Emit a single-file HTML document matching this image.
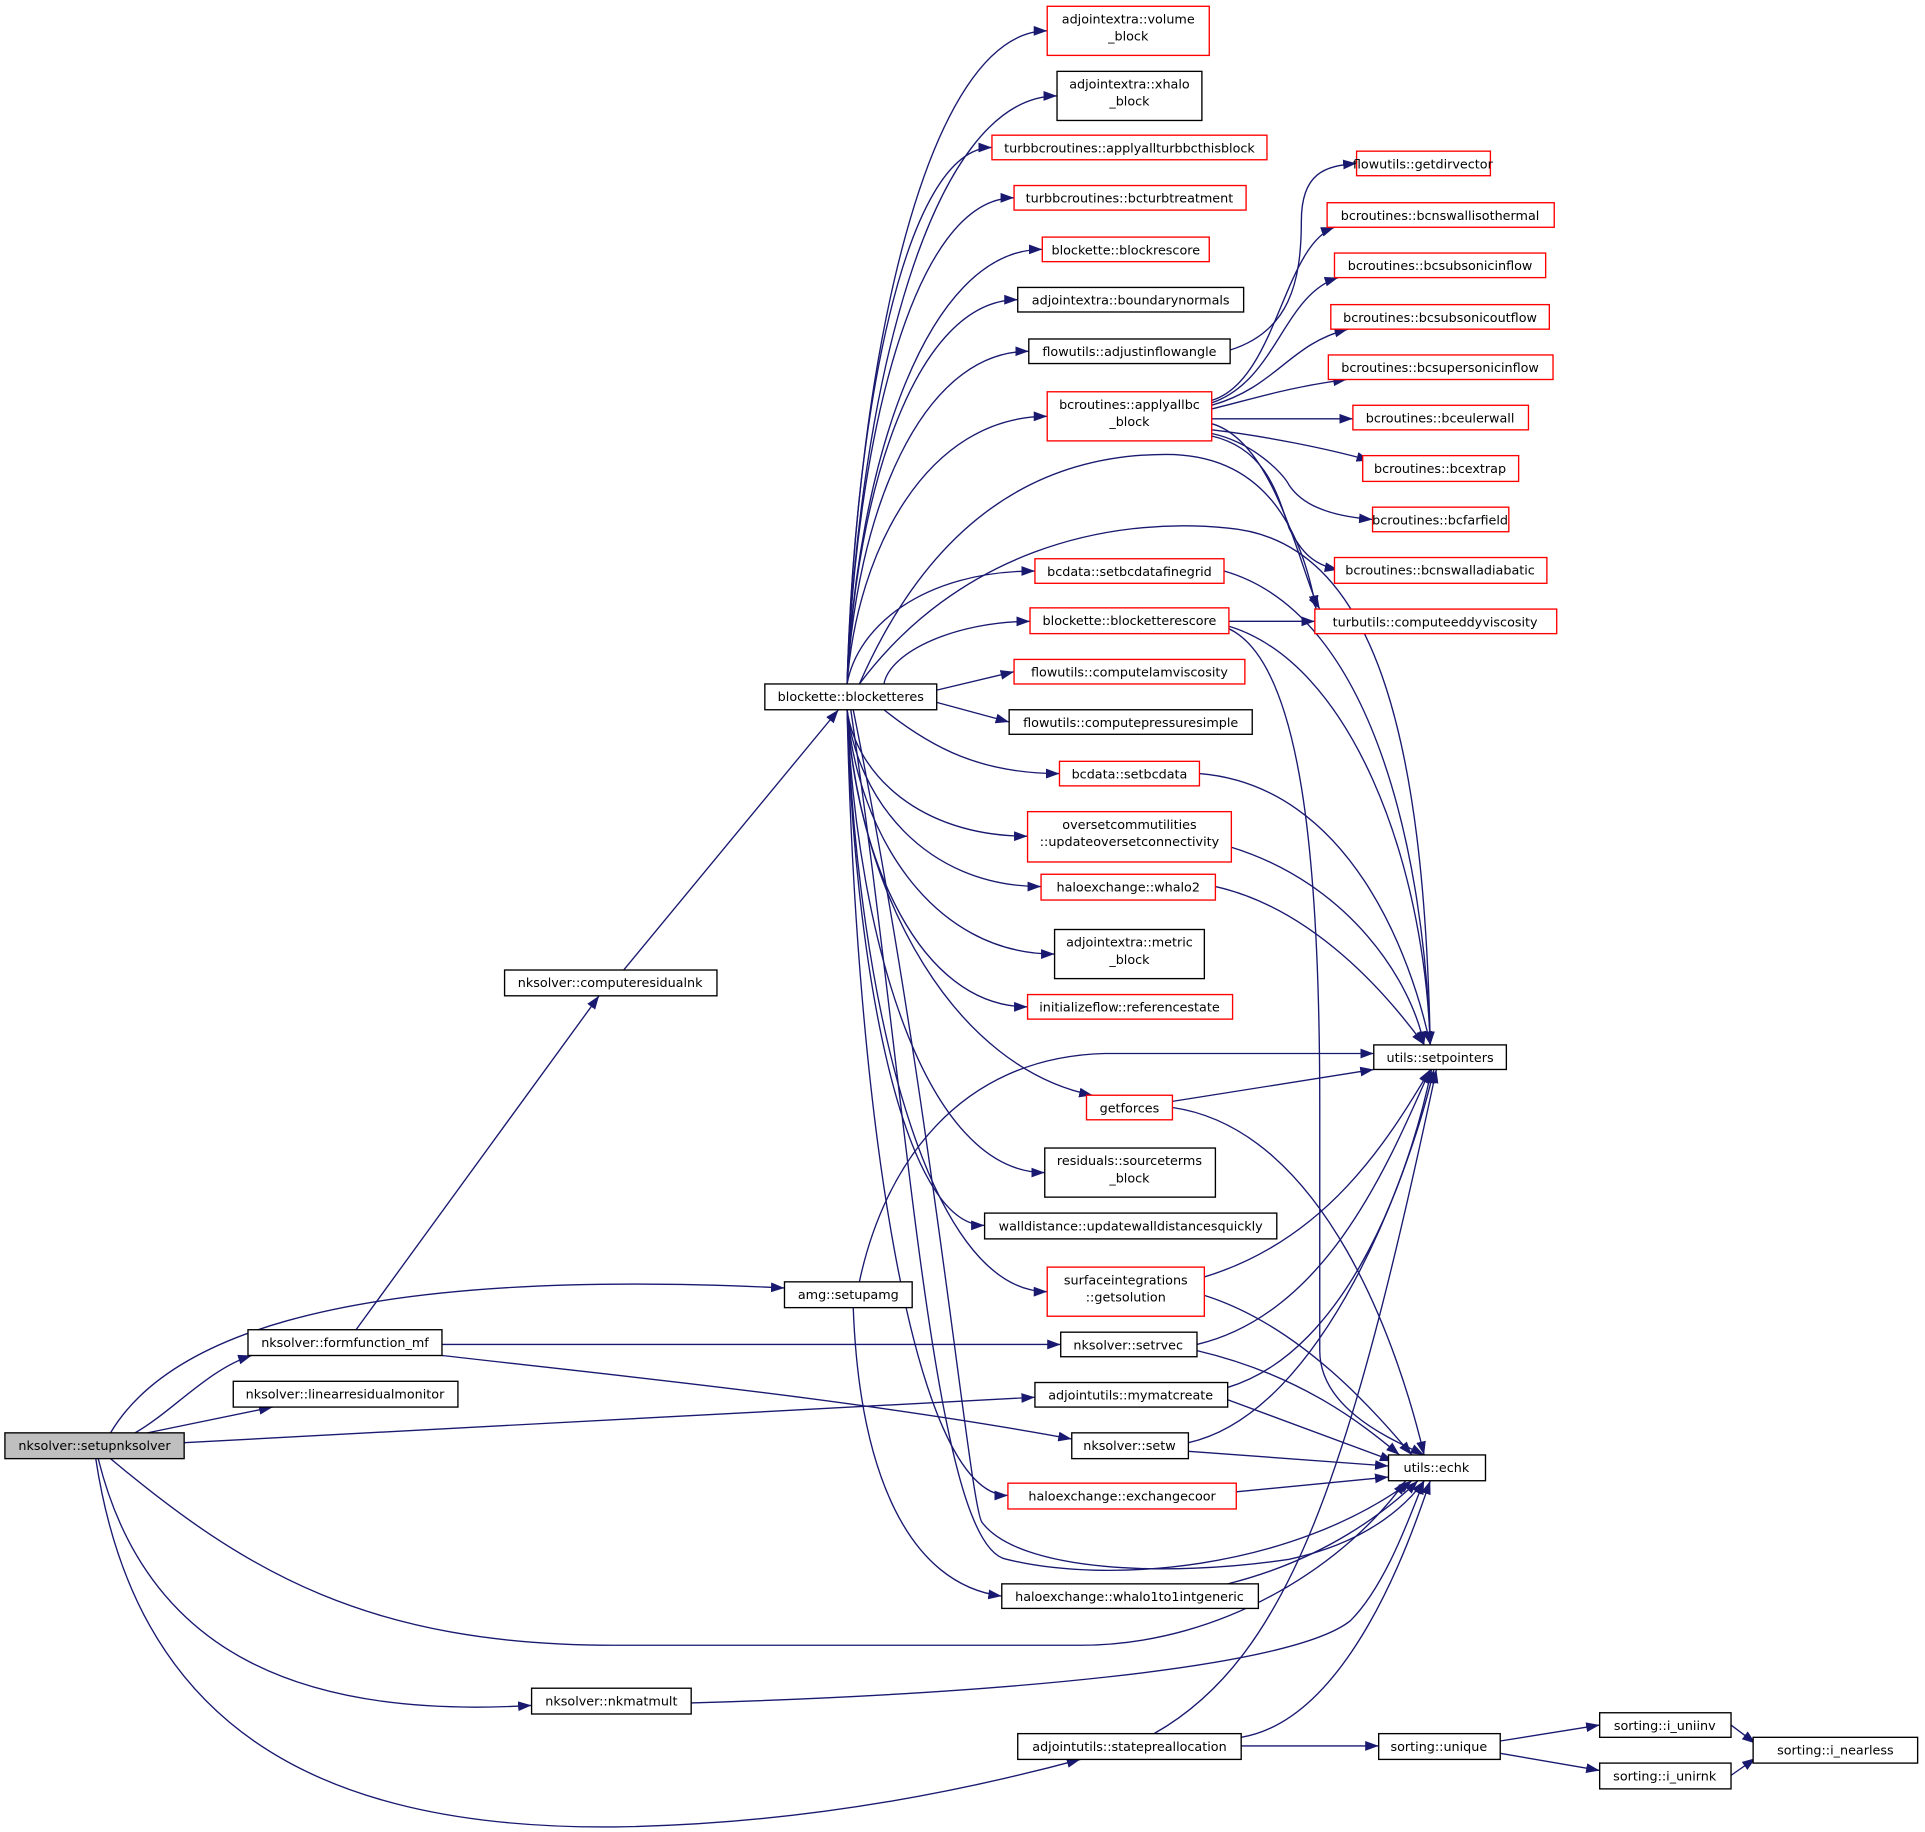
<!DOCTYPE html>
<html><head><meta charset="utf-8"><style>
html,body{margin:0;padding:0;background:#fff;}
svg{display:block}
text{font-family:"DejaVu Sans","Liberation Sans",sans-serif;font-size:10.4px;fill:#000;text-anchor:middle}
.e{fill:none;stroke:#191970;stroke-width:1.1;marker-end:url(#a)}
.r{fill:#fff;stroke:#ff0000;stroke-width:1.1}
.b{fill:#fff;stroke:#000;stroke-width:1.1}
</style></head><body>
<svg width="1925" height="1832" viewBox="0 0 1568 1492" xmlns="http://www.w3.org/2000/svg">
<defs><marker id="a" markerUnits="userSpaceOnUse" markerWidth="13" markerHeight="10" refX="11" refY="4" orient="auto"><path d="M0,0 L11,4 L0,8 z" fill="#191970"/></marker></defs>
<g>
<path class="e" d="M110,1167 C140,1150 170,1115 205,1104"/>
<path class="e" d="M120,1167 L222,1146"/>
<path class="e" d="M90,1167 C130,1100 250,1030 639,1049"/>
<path class="e" d="M150,1175 L843,1138"/>
<path class="e" d="M90,1188 C200,1280 300,1340 500,1340 L880,1340 C1000,1340 1100,1270 1145,1206"/>
<path class="e" d="M80,1188 C120,1350 250,1400 433,1389"/>
<path class="e" d="M78,1188 C110,1400 250,1490 500,1488 C650,1486 780,1460 880,1433"/>
<path class="e" d="M290,1083 L488,811"/>
<path class="e" d="M360,1095 L864,1095"/>
<path class="e" d="M360,1104 C500,1120 700,1140 873,1172"/>
<path class="e" d="M508,790 L683,578"/>
<path class="e" d="M700,1044 C720,950 780,861 900,858 L1119,858"/>
<path class="e" d="M695,1065 C700,1200 740,1290 816,1300"/>
<path class="e" d="M690,557 C698,291 755,25 853,25"/>
<path class="e" d="M690,557 C699,318 758,78 861,78"/>
<path class="e" d="M690,557 C696,338 737,120 808,120"/>
<path class="e" d="M690,557 C697,359 744,161 826,161"/>
<path class="e" d="M690,557 C698,380 754,203 849,203"/>
<path class="e" d="M690,557 C697,400 746,244 829,244"/>
<path class="e" d="M690,557 C697,421 749,286 838,286"/>
<path class="e" d="M690,557 C698,448 755,339 853,339"/>
<path class="e" d="M690,557 C698,511 751,465 843,465"/>
<path class="e" d="M720,557 C725,530 780,506 839,506"/>
<path class="e" d="M763,562 L826,547"/>
<path class="e" d="M763,572 L822,588"/>
<path class="e" d="M720,578 C760,610 800,630 863,630"/>
<path class="e" d="M690,578 C697,630 749,681 837,681"/>
<path class="e" d="M690,578 C698,650 753,722 848,722"/>
<path class="e" d="M690,578 C698,677 758,777 859,777"/>
<path class="e" d="M690,578 C697,699 749,820 837,820"/>
<path class="e" d="M690,578 C700,735 780,870 890,892"/>
<path class="e" d="M690,578 C698,766 754,955 851,955"/>
<path class="e" d="M690,578 C696,788 735,998 802,998"/>
<path class="e" d="M690,578 C698,815 755,1052 853,1052"/>
<path class="e" d="M690,578 C697,898 742,1218 821,1218"/>
<path class="e" d="M695,578 C760,900 790,1230 800,1240 C830,1280 950,1285 1050,1270 C1120,1255 1150,1220 1160,1206"/>
<path class="e" d="M693,578 C740,900 760,1260 820,1270 C900,1290 1050,1280 1150,1206"/>
<path class="e" d="M700,557 C760,420 850,370 950,370 C1030,370 1060,430 1072,496"/>
<path class="e" d="M700,557 C780,450 900,420 1000,430 C1120,440 1160,600 1165,851"/>
<path class="e" d="M1002,285 C1050,270 1060,230 1060,180 C1060,140 1080,135 1105,133"/>
<path class="e" d="M987,326 C1040,310 1045,200 1087,185"/>
<path class="e" d="M987,328 C1040,310 1045,240 1090,226"/>
<path class="e" d="M987,330 C1040,315 1050,280 1098,268"/>
<path class="e" d="M987,333 C1020,325 1050,315 1097,309"/>
<path class="e" d="M987,341 L1102,341"/>
<path class="e" d="M987,350 C1030,355 1080,365 1116,375"/>
<path class="e" d="M987,353 C1020,360 1045,385 1050,395 C1060,410 1080,420 1118,423"/>
<path class="e" d="M987,355 C1030,365 1040,400 1050,430 C1060,450 1070,460 1090,464"/>
<path class="e" d="M987,345 C1040,360 1060,470 1075,496"/>
<path class="e" d="M997,465 C1120,500 1160,700 1165,851"/>
<path class="e" d="M1001,506 L1071,506"/>
<path class="e" d="M1001,510 C1100,540 1160,700 1165,851"/>
<path class="e" d="M1001,512 C1060,540 1075,700 1075,900 L1075,1100 C1075,1150 1140,1175 1160,1185"/>
<path class="e" d="M977,630 C1100,640 1150,780 1165,851"/>
<path class="e" d="M1003,690 C1100,720 1150,800 1160,851"/>
<path class="e" d="M990,722 C1070,740 1130,810 1160,851"/>
<path class="e" d="M955,897 L1119,871"/>
<path class="e" d="M955,902 C1080,920 1140,1100 1160,1185"/>
<path class="e" d="M981,1040 C1080,1010 1130,930 1165,871"/>
<path class="e" d="M981,1055 C1060,1080 1120,1150 1150,1185"/>
<path class="e" d="M975,1095 C1080,1070 1130,950 1165,871"/>
<path class="e" d="M975,1100 C1060,1120 1110,1160 1140,1185"/>
<path class="e" d="M1000,1130 C1100,1100 1150,950 1166,871"/>
<path class="e" d="M1000,1140 L1135,1190"/>
<path class="e" d="M968,1175 C1080,1150 1150,950 1168,871"/>
<path class="e" d="M968,1182 L1131,1194"/>
<path class="e" d="M1007,1215 L1131,1203"/>
<path class="e" d="M1000,1290 C1080,1270 1130,1230 1155,1206"/>
<path class="e" d="M563,1387 C800,1380 1050,1360 1100,1320 C1130,1290 1150,1230 1160,1206"/>
<path class="e" d="M1011,1415 C1100,1400 1150,1250 1165,1206"/>
<path class="e" d="M940,1412 C1050,1350 1100,1200 1170,871"/>
<path class="e" d="M1011,1422 L1123,1422"/>
<path class="e" d="M1222,1418 L1303,1405"/>
<path class="e" d="M1222,1428 L1303,1442"/>
<path class="e" d="M1410,1405 L1430,1420"/>
<path class="e" d="M1410,1446 L1430,1432"/>
</g>
<g>
<rect x="4" y="1167" width="146" height="21" fill="#bfbfbf" stroke="#000" stroke-width="1.1"/><text x="77" y="1181">nksolver::setupnksolver</text>
<rect class="b" x="202" y="1083" width="158" height="21"/><text x="281" y="1097">nksolver::formfunction_mf</text>
<rect class="b" x="190" y="1125" width="183" height="21"/><text x="281" y="1139">nksolver::linearresidualmonitor</text>
<rect class="b" x="411" y="790" width="173" height="21"/><text x="497" y="804">nksolver::computeresidualnk</text>
<rect class="b" x="433" y="1375" width="130" height="21"/><text x="498" y="1389">nksolver::nkmatmult</text>
<rect class="b" x="623" y="557" width="140" height="21"/><text x="693" y="571">blockette::blocketteres</text>
<rect class="b" x="639" y="1044" width="104" height="21"/><text x="691" y="1058">amg::setupamg</text>
<rect class="b" x="829" y="1412" width="182" height="21"/><text x="920" y="1426">adjointutils::statepreallocation</text>
<rect class="r" x="853" y="5" width="132" height="40"/><text x="919" y="19">adjointextra::volume</text><text x="919" y="33">_block</text>
<rect class="b" x="861" y="58" width="118" height="40"/><text x="920" y="72">adjointextra::xhalo</text><text x="920" y="86">_block</text>
<rect class="r" x="808" y="110" width="224" height="20"/><text x="920" y="124">turbbcroutines::applyallturbbcthisblock</text>
<rect class="r" x="826" y="151" width="189" height="20"/><text x="920" y="165">turbbcroutines::bcturbtreatment</text>
<rect class="r" x="849" y="193" width="136" height="20"/><text x="917" y="207">blockette::blockrescore</text>
<rect class="b" x="829" y="234" width="184" height="20"/><text x="921" y="248">adjointextra::boundarynormals</text>
<rect class="b" x="838" y="276" width="164" height="20"/><text x="920" y="290">flowutils::adjustinflowangle</text>
<rect class="r" x="853" y="319" width="134" height="40"/><text x="920" y="333">bcroutines::applyallbc</text><text x="920" y="347">_block</text>
<rect class="r" x="843" y="455" width="154" height="20"/><text x="920" y="469">bcdata::setbcdatafinegrid</text>
<rect class="r" x="839" y="495" width="162" height="21"/><text x="920" y="509">blockette::blocketterescore</text>
<rect class="r" x="826" y="537" width="188" height="20"/><text x="920" y="551">flowutils::computelamviscosity</text>
<rect class="b" x="822" y="578" width="198" height="20"/><text x="921" y="592">flowutils::computepressuresimple</text>
<rect class="r" x="863" y="620" width="114" height="20"/><text x="920" y="634">bcdata::setbcdata</text>
<rect class="r" x="837" y="661" width="166" height="41"/><text x="920" y="675">oversetcommutilities</text><text x="920" y="689">::updateoversetconnectivity</text>
<rect class="r" x="848" y="712" width="142" height="21"/><text x="919" y="726">haloexchange::whalo2</text>
<rect class="b" x="859" y="757" width="122" height="40"/><text x="920" y="771">adjointextra::metric</text><text x="920" y="785">_block</text>
<rect class="r" x="837" y="810" width="167" height="20"/><text x="920" y="824">initializeflow::referencestate</text>
<rect class="r" x="885" y="892" width="70" height="20"/><text x="920" y="906">getforces</text>
<rect class="b" x="851" y="935" width="139" height="40"/><text x="920" y="949">residuals::sourceterms</text><text x="920" y="963">_block</text>
<rect class="b" x="802" y="988" width="238" height="21"/><text x="921" y="1002">walldistance::updatewalldistancesquickly</text>
<rect class="r" x="853" y="1032" width="128" height="40"/><text x="917" y="1046">surfaceintegrations</text><text x="917" y="1060">::getsolution</text>
<rect class="b" x="864" y="1085" width="111" height="20"/><text x="919" y="1099">nksolver::setrvec</text>
<rect class="b" x="843" y="1126" width="157" height="20"/><text x="921" y="1140">adjointutils::mymatcreate</text>
<rect class="b" x="873" y="1167" width="95" height="21"/><text x="920" y="1181">nksolver::setw</text>
<rect class="r" x="821" y="1208" width="186" height="21"/><text x="914" y="1222">haloexchange::exchangecoor</text>
<rect class="b" x="816" y="1290" width="209" height="20"/><text x="920" y="1304">haloexchange::whalo1to1intgeneric</text>
<rect class="r" x="1105" y="123" width="109" height="20"/><text x="1159" y="137">flowutils::getdirvector</text>
<rect class="r" x="1081" y="165" width="185" height="20"/><text x="1173" y="179">bcroutines::bcnswallisothermal</text>
<rect class="r" x="1087" y="206" width="172" height="20"/><text x="1173" y="220">bcroutines::bcsubsonicinflow</text>
<rect class="r" x="1084" y="248" width="178" height="20"/><text x="1173" y="262">bcroutines::bcsubsonicoutflow</text>
<rect class="r" x="1082" y="289" width="183" height="20"/><text x="1173" y="303">bcroutines::bcsupersonicinflow</text>
<rect class="r" x="1102" y="330" width="143" height="20"/><text x="1173" y="344">bcroutines::bceulerwall</text>
<rect class="r" x="1110" y="371" width="127" height="21"/><text x="1173" y="385">bcroutines::bcextrap</text>
<rect class="r" x="1118" y="413" width="111" height="20"/><text x="1173" y="427">bcroutines::bcfarfield</text>
<rect class="r" x="1087" y="454" width="173" height="21"/><text x="1173" y="468">bcroutines::bcnswalladiabatic</text>
<rect class="r" x="1071" y="496" width="197" height="20"/><text x="1169" y="510">turbutils::computeeddyviscosity</text>
<rect class="b" x="1119" y="851" width="108" height="20"/><text x="1173" y="865">utils::setpointers</text>
<rect class="b" x="1131" y="1185" width="79" height="21"/><text x="1170" y="1199">utils::echk</text>
<rect class="b" x="1123" y="1412" width="99" height="21"/><text x="1172" y="1426">sorting::unique</text>
<rect class="b" x="1303" y="1395" width="107" height="20"/><text x="1356" y="1409">sorting::i_uniinv</text>
<rect class="b" x="1303" y="1436" width="107" height="21"/><text x="1356" y="1450">sorting::i_unirnk</text>
<rect class="b" x="1428" y="1415" width="134" height="21"/><text x="1495" y="1429">sorting::i_nearless</text>
</g>
</svg>
</body></html>
